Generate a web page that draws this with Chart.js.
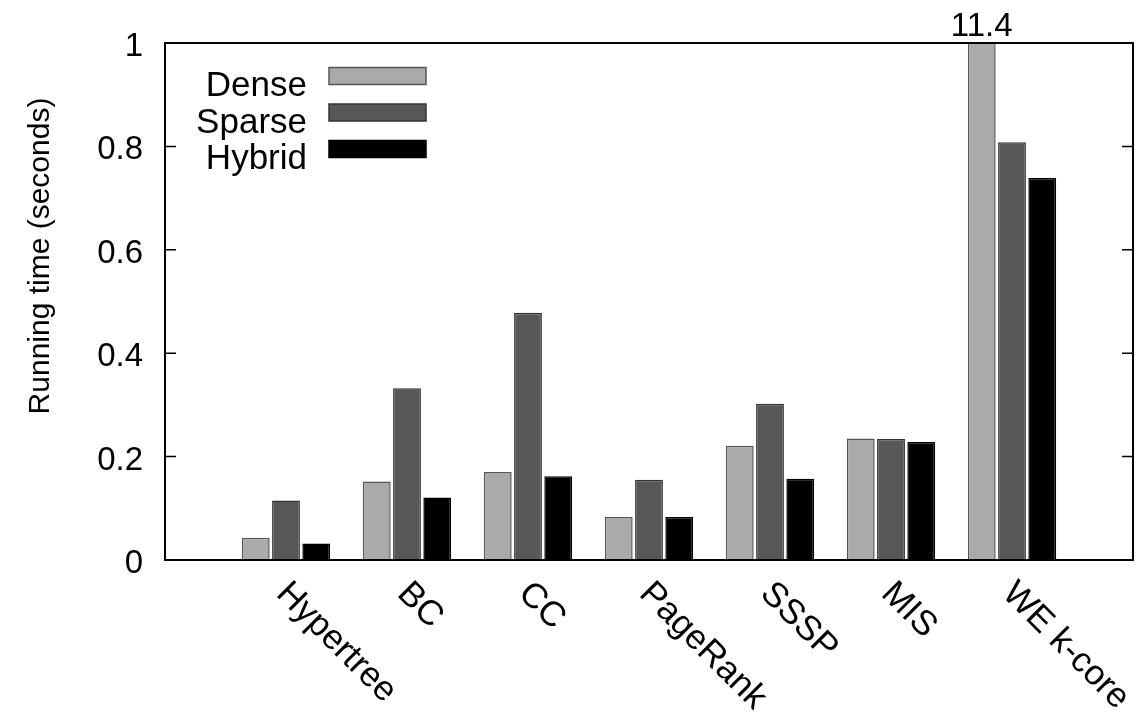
<!DOCTYPE html>
<html>
<head>
<meta charset="utf-8">
<script src="https://cdn.jsdelivr.net/npm/chart.js@4.4.1/dist/chart.umd.min.js"></script>
<style>
  body { margin: 0; background: #fff; }
  #wrap { position: relative; width: 1141px; height: 712px; }
</style>
</head>
<body>
<div id="wrap"><canvas id="runtimeChart"></canvas></div>
<script>
// Data
const categories = ['Hypertree', 'BC', 'CC', 'PageRank', 'SSSP', 'MIS', 'WE k-core'];
const denseTimes = [0.043, 0.152, 0.170, 0.083, 0.221, 0.235, 11.4];
const sparseTimes = [0.115, 0.332, 0.478, 0.155, 0.302, 0.234, 0.808];
const hybridTimes = [0.032, 0.121, 0.162, 0.083, 0.157, 0.228, 0.739];
const yTicks = [0, 0.2, 0.4, 0.6, 0.8, 1];
const yMax = 1;

const FONT = '"Liberation Sans", Arial, Helvetica, sans-serif';

function toPoints(values) {
    return values.map((v, i) => ({ x: i, y: v }));
}

// Frame, inside ticks, rotated category labels, overflow label, key, axis title
const gnuplotLook = {
    id: 'gnuplotLook',
    afterDatasetsDraw(chart) {
        const { ctx, chartArea: a, scales } = chart;
        const x = scales.x, y = scales.y;
        ctx.save();
        ctx.strokeStyle = '#000';
        ctx.lineWidth = 1.5;
        yTicks.forEach(t => {
            const py = y.getPixelForValue(t);
            ctx.beginPath();
            ctx.moveTo(a.left, py); ctx.lineTo(a.left + 11, py);
            ctx.moveTo(a.right, py); ctx.lineTo(a.right - 11, py);
            ctx.stroke();
        });
        ctx.lineWidth = 2;
        ctx.strokeRect(a.left, a.top, a.right - a.left, a.bottom - a.top);

        // category labels, rotated 45 degrees clockwise
        ctx.fillStyle = '#000';
        ctx.font = '35px ' + FONT;
        ctx.textAlign = 'left';
        ctx.textBaseline = 'alphabetic';
        categories.forEach((c, i) => {
            const px = x.getPixelForValue(i);
            ctx.save();
            ctx.translate(px - 11, a.bottom + 35);
            ctx.rotate(Math.PI / 4);
            ctx.fillText(c, 0, 0);
            ctx.restore();
        });

        // values beyond the y range get printed above the frame
        ctx.font = '33px ' + FONT;
        const denseMeta = chart.getDatasetMeta(0);
        denseTimes.forEach((v, i) => {
            if (v > yMax) {
                const bar = denseMeta.data[i];
                ctx.textAlign = 'center';
                ctx.fillText(String(v), bar.x, a.top - 7);
            }
        });

        // y axis title
        ctx.save();
        ctx.font = '30px ' + FONT;
        ctx.translate(49, 256);
        ctx.rotate(-Math.PI / 2);
        ctx.textAlign = 'center';
        ctx.fillText('Running time (seconds)', 0, 0);
        ctx.restore();

        // key: label on the left, sample box on the right
        ctx.font = '35px ' + FONT;
        ctx.textAlign = 'right';
        chart.data.datasets.forEach((ds, i) => {
            const rowY = 67.5 + i * 36.5;
            ctx.fillStyle = '#000';
            ctx.fillText(ds.label, 307, rowY + 28.5);
            ctx.fillStyle = ds.backgroundColor;
            ctx.fillRect(329, rowY, 97, 17);
            ctx.strokeStyle = ds.borderColor;
            ctx.lineWidth = 1.5;
            ctx.strokeRect(329, rowY, 97, 17);
        });
        ctx.restore();
    }
};

const ctx = document.getElementById('runtimeChart').getContext('2d');
const runtimeChart = new Chart(ctx, {
    type: 'bar',
    data: {
        datasets: [{
            label: 'Dense',
            data: toPoints(denseTimes),
            backgroundColor: '#aaaaaa',
            borderColor: '#555555',
            borderWidth: 1.5,
            clip: 0
        }, {
            label: 'Sparse',
            data: toPoints(sparseTimes),
            backgroundColor: '#575757',
            borderColor: '#333333',
            borderWidth: 1.5,
            clip: 0
        }, {
            label: 'Hybrid',
            data: toPoints(hybridTimes),
            backgroundColor: '#000000',
            borderColor: '#000000',
            borderWidth: 1.5,
            clip: 0
        }]
    },
    options: {
        responsive: true,
        maintainAspectRatio: false,
        animation: false,
        categoryPercentage: 0.75,
        barPercentage: 0.92,
        layout: {
            padding: { top: 43, right: 8, bottom: 152, left: 0 }
        },
        plugins: {
            legend: { display: false },
            tooltip: { enabled: false }
        },
        scales: {
            x: {
                type: 'linear',
                display: false,
                offset: false,
                min: -1,
                max: categories.length,
                ticks: { stepSize: 1, includeBounds: false }
            },
            y: {
                min: 0,
                max: yMax,
                afterBuildTicks: scale => {
                    scale.ticks = yTicks.map(v => ({ value: v }));
                },
                afterFit: scale => {
                    scale.width = 165;
                },
                grid: { display: false, drawTicks: false },
                border: { display: false },
                ticks: {
                    padding: 22,
                    labelOffset: 4,
                    color: '#000',
                    font: { family: FONT, size: 33 },
                    callback: v => String(v)
                }
            }
        }
    },
    plugins: [gnuplotLook]
});
</script>
</body>
</html>
